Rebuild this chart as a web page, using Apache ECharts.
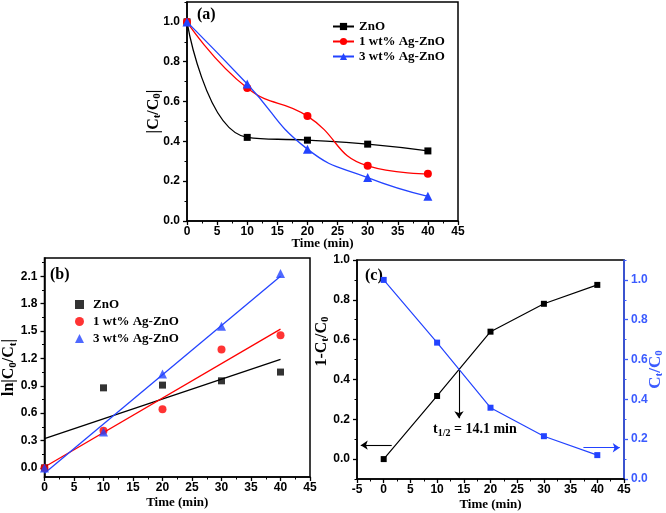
<!DOCTYPE html>
<html><head><meta charset="utf-8">
<script src="https://cdn.jsdelivr.net/npm/echarts@6/dist/echarts.min.js"></script>
<style>html,body{margin:0;padding:0;background:#fff}#c{width:666px;height:513px}</style>
</head><body><div id="c"></div>
<script>
// ---------- data ----------
const times = [0, 10, 20, 30, 40];
const seriesNames = ['ZnO', '1 wt% Ag-ZnO', '3 wt% Ag-ZnO'];
// panel (a): Ct/C0
const aZnO = [1.0, 0.42, 0.406, 0.386, 0.352];
const aAg1 = [1.0, 0.668, 0.527, 0.277, 0.237];
const aAg3 = [1.0, 0.688, 0.361, 0.218, 0.124];
// panel (b): ln(C0/Ct) and linear fits
const bZnO = [0, 0.877, 0.907, 0.954, 1.05];
const bAg1 = [0, 0.408, 0.642, 1.296, 1.454];
const bAg3 = [0, 0.392, 1.028, 1.553, 2.13];
const fitX = [0, 40];
const fitZnO = [0.32, 1.19];
const fitAg1 = [0.01, 1.52];
const fitAg3 = [-0.06, 2.1];
// panel (c)
const cConv = [0, 0.317, 0.64, 0.78, 0.875];   // 1-Ct/C0
const cRatio = [1.0, 0.685, 0.358, 0.215, 0.12]; // Ct/C0
const halfTime = 14.1;
// tick labels
const xTicksAB = [0, 5, 10, 15, 20, 25, 30, 35, 40, 45];
const xTicksC = [-5, 0, 5, 10, 15, 20, 25, 30, 35, 40, 45];
const aYTicks = [0.0, 0.2, 0.4, 0.6, 0.8, 1.0];
const bYTicks = [0.0, 0.3, 0.6, 0.9, 1.2, 1.5, 1.8, 2.1];
const cYLeftTicks = [0.0, 0.2, 0.4, 0.6, 0.8, 1.0];
const cYRightTicks = [0.0, 0.2, 0.4, 0.6, 0.8, 1.0];
// annotation arrows (panel c, data units)
const arrowHalf = [[halfTime, 0.445], [halfTime, 0.205]];
const arrowLeft = [[1.5, 0.07], [-4.3, 0.07]];
const arrowRight = [[37.4, 0.157], [44.2, 0.157]];

// ---------- helpers ----------
const BLACK = '#000', RED = '#ff0000', BLUE = '#2343ff', AXBLUE = '#3b5bff';
const serif = 'Liberation Serif', sans = 'Liberation Sans';
const mids = arr => arr.slice(0, -1).map((v, i) => (v + arr[i + 1]) / 2);
const pairs = (xs, ys) => xs.map((x, i) => [x, ys[i]]);
const subRich = { s: { fontSize: 11, fontFamily: serif, fontWeight: 'bold', padding: [8, 0, 0, 0] } };

function mainAxis(kind, o) {
  const color = o.color || BLACK;
  const ax = {
    type: 'value', gridIndex: o.grid, min: o.min, max: o.max, position: o.position,
    axisLine: { show: true, onZero: false, lineStyle: { color, width: 1.5 } },
    axisTick: { show: true, inside: false, length: 4, customValues: o.ticks, lineStyle: { color, width: 1.3 } },
    axisLabel: {
      show: true, customValues: o.ticks, margin: o.margin,
      fontFamily: sans, fontWeight: 'bold', fontSize: 12, color,
      formatter: o.fmt
    },
    splitLine: { show: false }, minorTick: { show: false }
  };
  if (o.name) {
    ax.name = o.name; ax.nameLocation = 'middle'; ax.nameGap = o.nameGap;
    ax.nameMoveOverlap = false;
    if (kind === 'y') ax.nameRotate = 90;
    ax.nameTextStyle = { fontFamily: serif, fontWeight: 'bold', fontSize: o.nameSize || 13, color, rich: subRich, padding: o.namePad || 0 };
  }
  return ax;
}
function minorAxis(o) {
  const color = o.color || BLACK;
  return {
    type: 'value', gridIndex: o.grid, min: o.min, max: o.max, position: o.position,
    axisLine: { show: false, onZero: false },
    axisTick: { show: true, inside: false, length: 2.5, customValues: mids(o.ticks).concat(o.extra || []), lineStyle: { color, width: 1 } },
    axisLabel: { show: false }, splitLine: { show: false }
  };
}
const f1 = v => Number(v).toFixed(1);
const f0 = v => String(Math.round(v));

const xAxes = [
  mainAxis('x', { grid: 0, min: 0, max: 45, position: 'bottom', ticks: xTicksAB, margin: 5, fmt: f0, name: 'Time (min)', nameGap: 16 }),
  mainAxis('x', { grid: 1, min: 0, max: 45, position: 'bottom', ticks: xTicksAB, margin: 5, fmt: f0, name: 'Time (min)', nameGap: 19 }),
  mainAxis('x', { grid: 2, min: -5, max: 45, position: 'bottom', ticks: xTicksC, margin: 5, fmt: f0, name: 'Time (min)', nameGap: 19 }),
  minorAxis({ grid: 0, min: 0, max: 45, position: 'bottom', ticks: xTicksAB }),
  minorAxis({ grid: 1, min: 0, max: 45, position: 'bottom', ticks: xTicksAB }),
  minorAxis({ grid: 2, min: -5, max: 45, position: 'bottom', ticks: xTicksC })
];
const yAxes = [
  mainAxis('y', { grid: 0, min: 0, max: 1.1, position: 'left', ticks: aYTicks, margin: 7, fmt: f1, name: '|C{s|t}/C{s|0}|', nameGap: 24, nameSize: 16 }),
  mainAxis('y', { grid: 1, min: -0.1, max: 2.3, position: 'left', ticks: bYTicks, margin: 7, fmt: f1, name: 'ln|C{s|0}/C{s|t}|', nameGap: 26, nameSize: 16 }),
  mainAxis('y', { grid: 2, min: -0.1, max: 1.0, position: 'left', ticks: cYLeftTicks, margin: 7, fmt: f1, name: '1-C{s|t}/C{s|0}', nameGap: 26, nameSize: 16, namePad: [0, 0, 0, 56] }),
  mainAxis('y', { grid: 2, min: 0, max: 1.1, position: 'right', ticks: cYRightTicks, margin: 7, fmt: f1, color: AXBLUE, name: 'C{s|t}/C{s|0}', nameGap: 22, nameSize: 17 }),
  minorAxis({ grid: 0, min: 0, max: 1.1, position: 'left', ticks: aYTicks, extra: [1.1] }),
  minorAxis({ grid: 1, min: -0.1, max: 2.3, position: 'left', ticks: bYTicks, extra: [2.25] }),
  minorAxis({ grid: 2, min: -0.1, max: 1.0, position: 'left', ticks: cYLeftTicks, extra: [-0.1] }),
  minorAxis({ grid: 2, min: 0, max: 1.1, position: 'right', ticks: cYRightTicks, color: AXBLUE, extra: [1.1] })
];

const gridStyle = { show: true, borderColor: BLACK, borderWidth: 1.5, backgroundColor: 'transparent', containLabel: false };

function curve(name, ys, color, symbol, size) {
  return { type: 'line', name, xAxisIndex: 0, yAxisIndex: 0, data: pairs(times, ys), smooth: 0.5,
    symbol, symbolSize: size, showSymbol: true, lineStyle: { color, width: 1.3 }, itemStyle: { color } };
}
function pts(name, ys, color, symbol, size) {
  return { type: 'scatter', name: 'b:' + name, xAxisIndex: 1, yAxisIndex: 1, data: pairs(times, ys),
    symbol, symbolSize: size, itemStyle: { color }, z: 3 };
}
function fit(ys, color) {
  return { type: 'line', name: 'fit', xAxisIndex: 1, yAxisIndex: 1, data: pairs(fitX, ys),
    symbol: 'none', lineStyle: { color, width: 1.3 }, z: 2 };
}
const arrowMark = (lines, color) => ({
  silent: true, symbol: ['none', 'arrow'], symbolSize: 7, animation: false,
  label: { show: false }, emphasis: { disabled: true },
  lineStyle: { color, width: 1.1, type: 'solid' },
  data: lines.map(l => [{ coord: l[0] }, { coord: l[1] }])
});

const series = [
  curve(seriesNames[0], aZnO, BLACK, 'rect', 7),
  curve(seriesNames[1], aAg1, RED, 'circle', 8),
  curve(seriesNames[2], aAg3, BLUE, 'triangle', 9),
  fit(fitZnO, BLACK), fit(fitAg1, RED), fit(fitAg3, BLUE),
  pts(seriesNames[0], bZnO, BLACK, 'rect', 7),
  pts(seriesNames[1], bAg1, RED, 'circle', 8),
  pts(seriesNames[2], bAg3, BLUE, 'triangle', 9),
  { type: 'line', name: 'conv', xAxisIndex: 2, yAxisIndex: 2, data: pairs(times, cConv),
    symbol: 'rect', symbolSize: 6, lineStyle: { color: BLACK, width: 1.2 }, itemStyle: { color: BLACK },
    markLine: arrowMark([arrowHalf, arrowLeft], BLACK) },
  { type: 'line', name: 'ratio', xAxisIndex: 2, yAxisIndex: 3, data: pairs(times, cRatio),
    symbol: 'rect', symbolSize: 6, lineStyle: { color: BLUE, width: 1.2 }, itemStyle: { color: BLUE },
    markLine: arrowMark([arrowRight], BLUE) }
];

const legendText = { fontFamily: serif, fontWeight: 'bold', fontSize: 13, color: BLACK, lineHeight: 13 };
const option = {
  animation: false,
  backgroundColor: '#fff',
  grid: [
    Object.assign({ left: 187, top: 2, width: 271, height: 219 }, gridStyle),
    Object.assign({ left: 40, top: 258, width: 270, height: 219 }, gridStyle),
    Object.assign({ left: 357, top: 260, width: 272, height: 219 }, gridStyle)
  ],
  xAxis: xAxes,
  yAxis: yAxes,
  legend: [
    { data: seriesNames, orient: 'vertical', left: 327, top: 15, itemWidth: 21, itemHeight: 9, itemGap: 2,
      textStyle: legendText, selectedMode: false },
    { data: seriesNames.map(n => 'b:' + n), orient: 'vertical', left: 70, top: 293, itemWidth: 9, itemHeight: 9, itemGap: 4,
      formatter: n => n.slice(2), textStyle: Object.assign({ padding: [0, 0, 0, 4] }, legendText), selectedMode: false }
  ],
  graphic: [
    { type: 'text', left: 197, top: 7, style: { text: '(a)', font: 'bold 16px "Liberation Serif"', fill: BLACK } },
    { type: 'text', left: 50, top: 267, style: { text: '(b)', font: 'bold 16px "Liberation Serif"', fill: BLACK } },
    { type: 'text', left: 365, top: 268, style: { text: '(c)', font: 'bold 16px "Liberation Serif"', fill: BLACK } },
    { type: 'text', left: 433, top: 422, style: {
        text: 't{s|1/2} = 14.1 min', fontFamily: serif, fontWeight: 'bold', fontSize: 14, fill: BLACK,
        rich: { s: { fontSize: 10, fontFamily: serif, fontWeight: 'bold', padding: [8, 0, 0, 0], fill: BLACK } } } }
  ],
  series
};
const chart = echarts.init(document.getElementById('c'), null, { renderer: 'canvas' });
chart.setOption(option);
</script></body></html>
